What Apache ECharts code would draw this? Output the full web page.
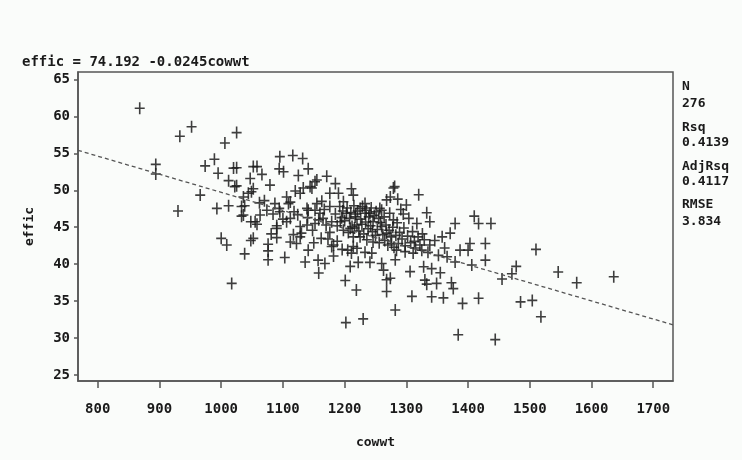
<!DOCTYPE html>
<html>
<head>
<meta charset="utf-8">
<script src="https://cdn.jsdelivr.net/npm/echarts@6/dist/echarts.min.js"></script>
<style>
html,body{margin:0;padding:0;background:#fafcfa;}
#c{width:742px;height:460px;}
</style>
</head>
<body>
<div id="c"></div>
<script>
// cowwt values
var cowwt = [
868,894,894,930,933,952,966,974,989,993,995,1000,1006,1009,1012,1012,1017,1020,1022,1025,
1025,1025,1033,1033,1036,1036,1038,1038,1044,1047,1048,1048,1049,1052,1052,1052,1055,1058,1058,1063,
1066,1074,1076,1076,1076,1079,1087,1090,1090,1090,1094,1094,1095,1095,1101,1103,1106,1106,1109,1112,
1112,1116,1117,1122,1120,1125,1128,1128,1128,1130,1132,1133,1136,1139,1139,1141,1141,1141,1144,1147,
1152,1152,1152,1155,1157,1158,1160,1162,1163,1165,1168,1171,1176,1176,1176,1179,1179,1182,1182,1185,
1190,1192,1193,1198,1198,1201,1202,1203,1209,1209,1211,1211,1214,1214,1214,1217,1219,1220,1220,1222,
1225,1225,1230,1233,1233,1236,1241,1241,1244,1246,1246,1257,1260,1260,1260,1263,1268,1268,1268,1268,
1274,1274,1276,1279,1279,1281,1282,1282,1284,1286,1295,1298,1300,1306,1309,1311,1317,1320,1325,1328,
1330,1333,1333,1338,1338,1341,1341,1349,1355,1360,1362,1371,1373,1376,1379,1379,1384,1387,1391,1403,
1400,1406,1410,1417,1417,1428,1428,1437,1444,1455,1471,1478,1485,1504,1510,1518,1546,1576,1636,
1185,1188,1195,1197,1200,1204,1206,1208,1210,1212,1215,1216,1218,1221,1223,1226,1228,1229,1231,1234,
1235,1238,1239,1242,1243,1245,1248,1250,1251,1253,1255,1256,1258,1262,1264,1265,1267,1270,1272,1273,
1275,1278,1280,1283,1285,1287,1289,1291,1293,1296,1298,1302,1304,1307,1310,1313,1315,1319,1322,1326,
1329,1335,1346,1352,1358,1366,1140,1148,1155,1158,1167,1170,1173,1118,1124,1100,1084,1070,1062,1081,
1112,1150,1188,1196,1205,1233
];
// effic values
var effic = [
61.1,53.5,52.2,47.2,57.3,58.6,49.35,53.3,54.2,47.55,52.3,43.5,56.4,42.6,47.9,51.3,37.4,53.0,50.5,57.8,
53.05,50.6,47.8,46.5,49.1,46.65,47.9,41.4,49.6,51.6,45.75,43.2,49.8,53.2,50.2,43.5,45.75,53.2,45.4,46.65,
52.15,47.3,42.7,41.8,40.6,50.7,48.2,45.2,43.6,44.85,52.9,47.55,54.55,47.1,52.5,40.9,49.1,45.75,48.2,48.4,
46.2,54.7,44.0,42.8,49.9,52.0,49.6,43.7,45.1,44.2,54.3,50.3,40.3,45.3,47.55,52.9,47.3,41.9,50.5,50.3,
51.15,45.5,47.3,51.4,40.55,38.8,46.9,43.5,48.5,46.2,40.1,51.9,49.6,47.8,44.3,42.4,45.75,41.1,42.6,50.9,
49.6,47.8,45.75,48.45,44.6,37.8,32.1,46.9,39.7,44.85,50.2,41.5,49.35,43.7,42.4,46.4,36.5,45.3,42.15,40.25,
47.55,43.7,32.6,48.2,46.9,43.3,40.25,46.9,41.5,45.75,43.0,47.55,45.1,47.3,40.1,39.2,48.7,44.2,37.9,36.3,
49.1,38.1,42.8,50.3,46.0,50.5,40.6,33.8,41.9,48.8,46.8,41.7,48.0,39.0,35.65,41.5,45.5,49.4,41.9,39.65,
37.85,46.95,37.3,45.75,42.6,39.4,35.6,37.4,38.85,35.45,42.2,44.2,37.5,36.7,45.5,40.3,30.45,41.9,34.7,42.8,
41.9,39.9,46.5,45.5,35.4,40.55,42.8,45.5,29.8,38.0,38.7,39.7,34.9,35.1,42.0,32.9,38.95,37.5,38.3,
46.8,45.2,46.3,47.2,45.9,47.6,44.3,46.2,47.0,45.1,47.9,44.9,46.8,47.2,44.5,46.1,45.4,47.8,44.1,45.7,
47.3,44.8,46.4,45.2,47.6,44.4,46.6,43.9,47.1,44.7,46.2,42.9,45.6,44.0,46.4,43.2,45.3,42.6,44.6,46.9,
43.7,45.0,42.3,43.9,45.6,42.8,44.3,47.4,43.4,44.9,42.5,43.8,46.2,42.9,44.4,43.1,42.2,43.7,42.6,44.1,
43.3,41.6,43.2,41.2,43.7,41.0,46.3,44.6,48.2,46.0,47.4,45.3,43.4,47.1,46.7,46.1,46.8,48.6,48.3,44.1,
43.0,42.9,43.1,42.0,41.9,41.6
];
// regression line end points
var fitX = [768, 1732];
var fitY = [55.4, 31.8];
var xTicks = [800, 900, 1000, 1100, 1200, 1300, 1400, 1500, 1600, 1700];
var yTicks = [25, 30, 35, 40, 45, 50, 55, 60, 65];
var titleText = 'effic = 74.192 -0.0245cowwt';
var statsLines = ['N', '276', 'Rsq', '0.4139', 'AdjRsq', '0.4117', 'RMSE', '3.834'];

var pts = cowwt.map(function (v, i) { return [v, effic[i]]; });
var fit = fitX.map(function (v, i) { return [v, fitY[i]]; });

var FONT = '"DejaVu Sans Mono", monospace';
var chart = echarts.init(document.getElementById('c'));
var statsY = [88, 105, 129, 144, 168, 183, 206, 223];
var graphics = [{
  type: 'text', left: 22, top: 55,
  style: { text: titleText, font: 'bold 14px ' + FONT, fill: '#1a1a1a' }
}];
statsLines.forEach(function (s, i) {
  graphics.push({ type: 'text', left: 682, top: statsY[i] - 8,
    style: { text: s, font: 'bold 13px ' + FONT, fill: '#1a1a1a' } });
});

chart.setOption({
  backgroundColor: '#fafcfa',
  animation: false,
  grid: { left: 78, top: 72, width: 595, height: 309, show: true,
          borderColor: '#555', borderWidth: 1.5, backgroundColor: 'transparent' },
  xAxis: {
    type: 'value', min: 768, max: 1732,
    name: 'cowwt', nameLocation: 'middle', nameGap: 55,
    nameTextStyle: { fontFamily: FONT, fontWeight: 'bold', fontSize: 13, color: '#1a1a1a' },
    axisLine: { show: true, lineStyle: { color: '#555', width: 1.5 } },
    axisTick: { show: true, length: 7, customValues: xTicks, lineStyle: { color: '#555', width: 1.5 } },
    axisLabel: { customValues: xTicks, margin: 21, fontFamily: FONT, fontWeight: 'bold', fontSize: 14, color: '#1a1a1a',
                 formatter: function (v) { return String(v); } },
    splitLine: { show: false }
  },
  yAxis: {
    type: 'value', min: 24.2, max: 66,
    name: 'effic', nameLocation: 'middle', nameGap: 42, nameRotate: 90,
    nameTextStyle: { fontFamily: FONT, fontWeight: 'bold', fontSize: 13, color: '#1a1a1a' },
    axisLine: { show: true, lineStyle: { color: '#555', width: 1.5 } },
    axisTick: { show: true, length: 4, customValues: yTicks, lineStyle: { color: '#555', width: 1.5 } },
    axisLabel: { customValues: yTicks, margin: 8, fontFamily: FONT, fontWeight: 'bold', fontSize: 14, color: '#1a1a1a',
                 formatter: function (v) { return String(v); } },
    splitLine: { show: false }
  },
  graphic: graphics,
  series: [{
    type: 'line', data: fit, symbol: 'none', silent: true,
    lineStyle: { color: '#555', width: 1.3, type: [4, 3] }
  }, {
    type: 'scatter', data: pts,
    symbol: 'path://M0,5.2H10V6.8H0Z M4.2,0H5.8V12H4.2Z',
    symbolSize: [10, 12],
    itemStyle: { color: '#1c1c1c', opacity: 0.85 }
  }]
});
</script>
</body>
</html>
